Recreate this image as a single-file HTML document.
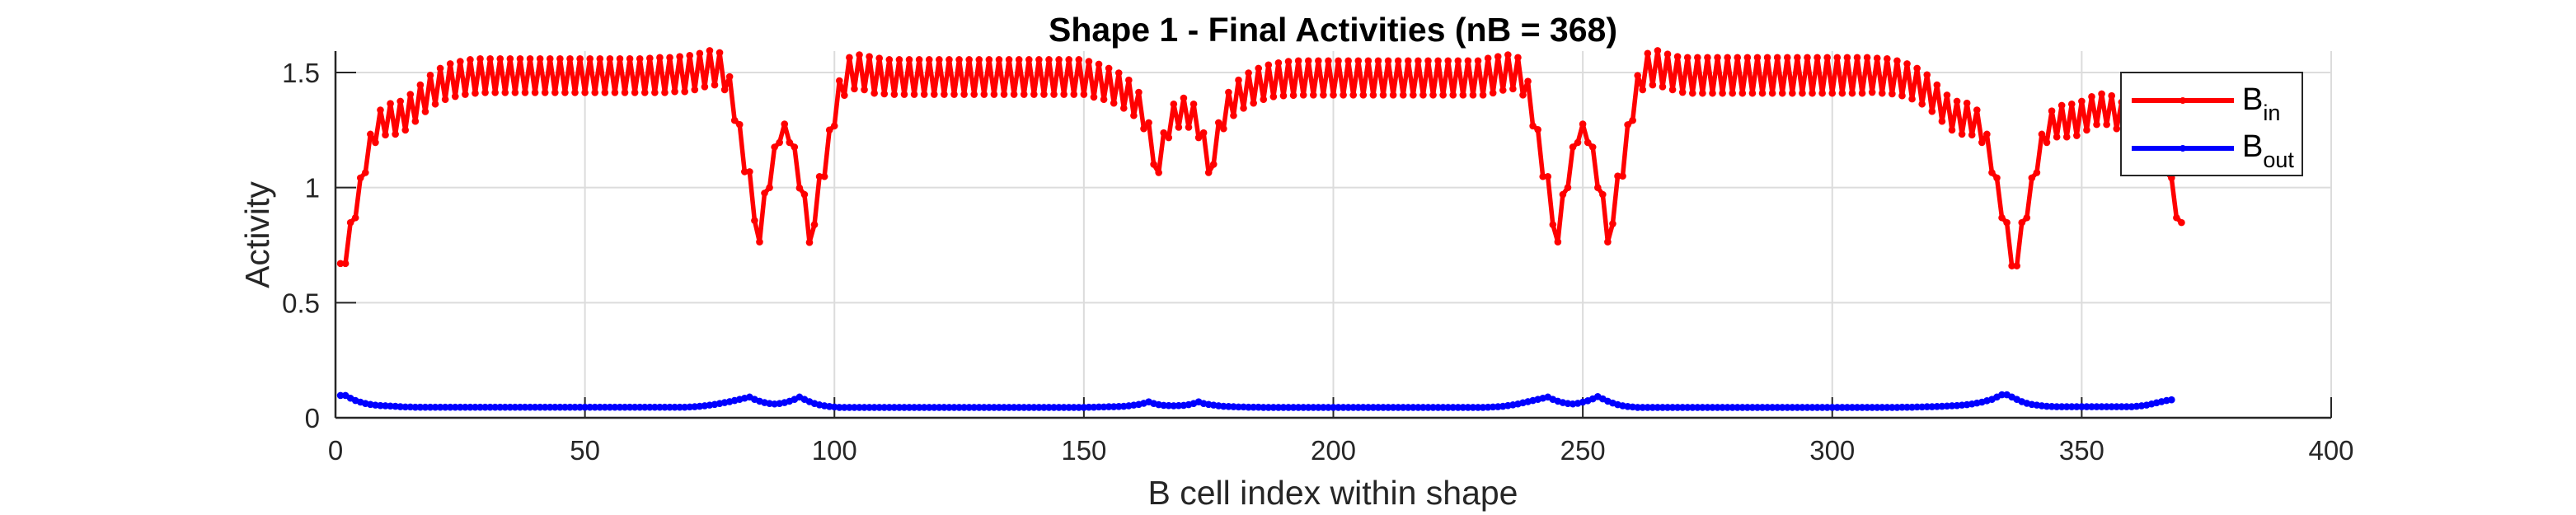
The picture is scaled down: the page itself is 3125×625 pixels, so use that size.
<!DOCTYPE html>
<html><head><meta charset="utf-8"><style>
html,body{margin:0;padding:0;background:#fff;}
svg{display:block;font-family:"Liberation Sans",Arial,sans-serif;}
</style></head><body>
<svg id="chart" width="3125" height="625" viewBox="0 0 3125 625" xmlns="http://www.w3.org/2000/svg">
<rect x="0" y="0" width="3125" height="625" fill="#fff"/>
<g id="grid"></g>
<g id="axes"></g>
<g id="series"></g>
<text x="1617" y="50" text-anchor="middle" font-size="41" font-weight="bold" fill="#000">Shape 1 - Final Activities (nB = 368)</text>
<text x="1617" y="612" text-anchor="middle" font-size="41" fill="#262626">B cell index within shape</text>
<text x="0" y="0" transform="translate(326,285) rotate(-90)" text-anchor="middle" font-size="41" fill="#262626">Activity</text>
<g>
<rect x="2573" y="88" width="220" height="125" fill="#fff" stroke="#262626" stroke-width="2"/>
<g>
<line x1="2586" y1="122" x2="2710" y2="122" stroke="#ff0000" stroke-width="6"/>
<circle cx="2648" cy="122" r="4" fill="#ff0000"/>
<text x="2720" y="133" font-size="38" fill="#000">B<tspan font-size="27" dy="13">in</tspan></text>
</g>
<g>
<line x1="2586" y1="180" x2="2710" y2="180" stroke="#0000ff" stroke-width="6"/>
<circle cx="2648" cy="180" r="4" fill="#0000ff"/>
<text x="2720" y="190" font-size="38" fill="#000">B<tspan font-size="27" dy="13">out</tspan></text>
</g>
</g>
</svg>
<script>
const xTicks = [0, 50, 100, 150, 200, 250, 300, 350, 400];
const yTicks = [0, 0.5, 1, 1.5];
const yTickLabels = ["0", "0.5", "1", "1.5"];
const bIn = [
0.67,0.67,0.848,0.869,1.042,1.065,1.232,1.196,1.337,1.229,1.365,1.232,1.375,1.25,1.405,1.288,1.446,1.33,1.488,1.363,1.518,1.383,1.538,1.396,1.548,1.405,1.556,1.41,
1.56,1.413,1.56,1.413,1.56,1.413,1.56,1.413,1.56,1.413,1.56,1.413,1.56,1.413,1.56,1.413,1.56,1.413,1.56,1.413,1.56,1.413,1.56,1.413,1.56,1.413,1.56,1.413,1.56,1.413,1.56,1.413,1.56,1.413,
1.562,1.413,1.565,1.413,1.565,1.417,1.569,1.417,1.574,1.425,1.583,1.438,1.595,1.446,1.586,1.425,
1.482,1.292,1.274,1.069,1.069,0.857,0.764,0.976,1.0,1.176,1.196,1.276,1.196,1.176,0.998,0.97,0.762,0.839,1.048,1.048,1.25,1.268,1.464,1.401,
1.565,1.429,1.577,1.425,1.569,1.41,1.562,1.407,
1.556,1.405,1.556,1.405,1.556,1.405,1.556,1.405,1.556,1.405,1.556,1.405,1.556,1.405,1.556,1.405,1.556,1.405,1.556,1.405,
1.556,1.405,1.556,1.405,1.556,1.405,1.556,1.405,1.556,1.405,1.556,1.405,1.556,1.405,1.556,1.405,1.556,1.405,1.556,1.405,
1.548,1.393,1.536,1.383,1.518,1.367,1.498,1.345,1.467,1.313,1.414,1.256,1.282,1.101,1.065,1.238,1.217,1.363,1.262,1.389,1.262,1.363,1.217,1.238,1.065,1.101,1.282,1.256,1.414,1.313,1.467,1.345,1.498,1.367,1.518,
1.383,1.533,1.395,1.542,1.399,1.548,1.401,
1.551,1.402,1.551,1.402,1.551,1.402,1.551,1.402,1.551,1.402,1.551,1.402,1.551,1.402,1.551,1.402,1.551,1.402,1.551,1.402,
1.551,1.402,1.551,1.402,1.551,1.402,1.551,1.402,1.551,1.402,1.551,1.402,1.551,1.402,1.551,1.402,1.551,1.402,
1.562,1.411,1.569,1.423,1.577,1.429,1.565,1.402,
1.462,1.268,1.252,1.048,1.048,0.839,0.764,0.97,1.0,1.176,1.196,1.276,1.196,1.176,1.0,0.97,0.764,0.843,1.05,1.05,1.273,1.292,1.487,1.425,1.583,1.446,1.595,1.438,1.58,1.425,1.569,1.414,
1.565,1.41,1.565,1.41,1.565,1.41,1.565,1.41,1.565,1.41,1.565,1.41,1.565,1.41,1.565,1.41,1.565,1.41,
1.565,1.41,1.565,1.41,1.565,1.41,1.565,1.41,1.565,1.41,1.565,1.41,1.565,1.41,1.565,1.41,1.565,1.41,
1.565,1.414,1.562,1.41,1.56,1.407,1.551,1.399,1.538,1.385,1.518,1.363,1.49,1.331,1.446,1.288,1.402,1.25,1.375,1.232,1.367,1.229,1.337,1.196,1.232,1.065,1.042,0.869,0.848,
0.66,0.66,0.848,0.869,1.042,1.065,1.232,1.196,1.333,1.22,1.357,1.22,1.363,1.226,1.375,1.25,1.395,1.274,1.407,1.274,1.399,1.256,1.371,1.232,1.363,1.23,1.36,1.229,1.337,1.196,1.232,1.065,1.042,0.869,0.848
];
const bOut = [
0.097,0.097,0.085,0.075,0.068,0.062,0.058,0.055,0.053,0.052,0.051,0.05,
0.048,0.047,0.047,0.046,0.046,0.046,0.046,0.046,0.046,0.046,0.046,0.046,0.046,0.046,0.046,0.046,0.046,0.046,
0.046,0.046,0.046,0.046,0.046,0.046,0.046,0.046,0.046,0.046,0.046,0.046,0.046,0.046,0.046,0.046,0.046,0.046,0.046,0.046,
0.046,0.046,0.046,0.046,0.046,0.046,0.046,0.046,0.046,0.046,0.046,0.046,0.046,0.046,0.046,0.046,0.046,0.046,0.046,0.046,
0.047,0.048,0.05,0.052,0.055,0.058,0.062,0.066,0.07,0.075,0.08,0.085,0.09,0.08,0.072,0.066,0.062,0.06,0.062,0.066,0.072,0.08,0.09,0.08,0.07,0.062,0.056,0.052,0.049,0.047,
0.045,0.045,0.045,0.045,0.045,0.045,0.045,0.045,0.045,0.045,0.045,0.045,0.045,0.045,0.045,0.045,0.045,0.045,0.045,0.045,0.045,0.045,0.045,0.045,0.045,
0.045,0.045,0.045,0.045,0.045,0.045,0.045,0.045,0.045,0.045,0.045,0.045,0.045,0.045,0.045,0.045,0.045,0.045,0.045,0.045,0.045,0.045,0.045,0.045,0.045,
0.046,0.046,0.047,0.047,0.048,0.048,0.049,0.05,0.052,0.055,0.058,0.063,0.069,0.062,0.057,0.054,0.053,0.052,0.053,0.054,0.057,0.062,0.069,0.062,0.058,0.055,0.052,0.05,0.049,0.048,0.047,0.047,0.046,0.046,0.046,
0.045,0.045,0.045,0.045,0.045,0.045,0.045,0.045,0.045,0.045,0.045,0.045,0.045,0.045,0.045,0.045,0.045,0.045,0.045,0.045,0.045,0.045,
0.045,0.045,0.045,0.045,0.045,0.045,0.045,0.045,0.045,0.045,0.045,0.045,0.045,0.045,0.045,0.045,0.045,0.045,0.045,0.045,0.045,0.045,0.045,
0.046,0.047,0.048,0.05,0.053,0.056,0.06,0.065,0.07,0.075,0.08,0.085,0.09,0.08,0.072,0.066,0.062,0.06,0.063,0.068,0.074,0.082,0.092,0.082,0.072,0.064,0.057,0.052,0.049,0.047,
0.045,0.045,0.045,0.045,0.045,0.045,0.045,0.045,0.045,0.045,0.045,0.045,0.045,0.045,0.045,0.045,0.045,0.045,0.045,0.045,0.045,0.045,0.045,0.045,0.045,
0.045,0.045,0.045,0.045,0.045,0.045,0.045,0.045,0.045,0.045,0.045,0.045,0.045,0.045,0.045,0.045,0.045,0.045,0.045,0.045,0.045,0.045,0.045,
0.045,0.045,0.045,0.045,0.045,0.046,0.046,0.046,0.047,0.047,0.048,0.048,0.049,0.05,0.051,0.052,0.053,0.055,0.057,0.06,0.064,0.068,0.074,0.08,0.09,
0.1,0.1,0.09,0.08,0.07,0.063,0.058,0.055,0.052,0.05,
0.049,0.048,0.048,0.048,0.048,0.048,0.048,0.048,0.048,0.048,0.048,0.048,0.048,0.048,0.048,0.048,0.048,
0.05,0.052,0.055,0.06,0.065,0.07,0.075,0.078
];
const NS = "http://www.w3.org/2000/svg";
const L = 407, R = 2828, T = 62, B = 507;
const xMin = 0, xMax = 400, yMin = 0;
function xs(v){ return L + (v - xMin) / (xMax - xMin) * (R - L); }
function ys(v){ return B - (v - yMin) / 1.5 * 419; }
function mk(tag, attrs, parent){ const e = document.createElementNS(NS, tag); for (const k in attrs) e.setAttribute(k, attrs[k]); parent.appendChild(e); return e; }
const grid = document.getElementById('grid');
const axes = document.getElementById('axes');
const series = document.getElementById('series');
xTicks.forEach(function(t){
  const g = mk('line', {x1: xs(t), y1: T, x2: xs(t), y2: B, stroke: '#dcdcdc', 'stroke-width': 2}, grid);
  
  
  const tk = mk('line', {x1: xs(t), y1: B, x2: xs(t), y2: B - 25, stroke: '#262626', 'stroke-width': 2}, axes);
  
  
  const lb = mk('text', {x: xs(t), y: 558, 'text-anchor': 'middle', 'font-size': 33, fill: '#262626'}, axes);
  lb.textContent = String(t);
  
  
});
yTicks.forEach(function(t, i){
  const g = mk('line', {x1: L, y1: ys(t), x2: R, y2: ys(t), stroke: '#dcdcdc', 'stroke-width': 2}, grid);
  
  
  const tk = mk('line', {x1: L, y1: ys(t), x2: L + 25, y2: ys(t), stroke: '#262626', 'stroke-width': 2}, axes);
  
  
  const lb = mk('text', {x: 388, y: ys(t) + 12, 'text-anchor': 'end', 'font-size': 33, fill: '#262626'}, axes);
  lb.textContent = yTickLabels[i];
  
  
});
const xa = mk('line', {x1: L, y1: B, x2: R, y2: B, stroke: '#262626', 'stroke-width': 2.5}, axes);


const ya = mk('line', {x1: L, y1: T, x2: L, y2: B, stroke: '#262626', 'stroke-width': 2.5}, axes);


function drawSeries(vals, color, name){
  const pts = vals.map(function(v, i){ return xs(i + 1).toFixed(2) + ',' + ys(v).toFixed(2); }).join(' ');
  const pl = mk('polyline', {points: pts, fill: 'none', stroke: color, 'stroke-width': 5.5, 'stroke-linejoin': 'round'}, series);
  
  
  vals.forEach(function(v, i){
    const c = mk('circle', {cx: xs(i + 1), cy: ys(v), r: 4.3, fill: color}, series);
    
    
  });
}
drawSeries(bOut, '#0000ff', 'b-out');
drawSeries(bIn, '#ff0000', 'b-in');
</script>
</body></html>
